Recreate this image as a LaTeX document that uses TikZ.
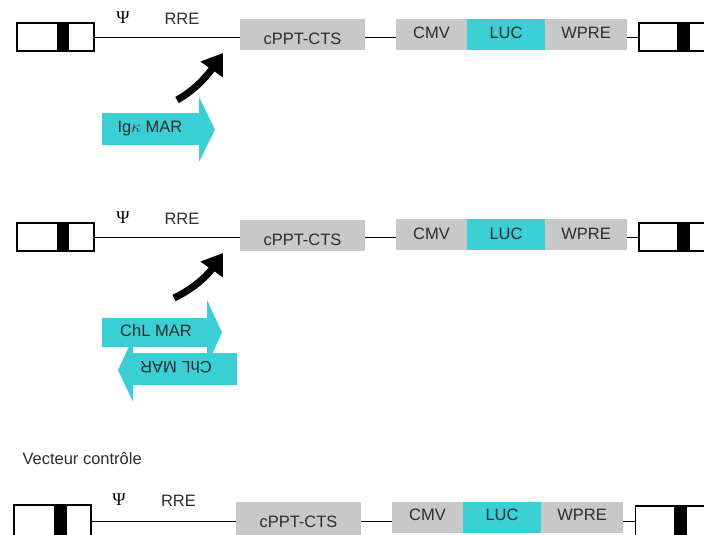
\documentclass[tikz,border=0pt]{standalone}
\usepackage{fontspec}
\setmainfont{Liberation Sans}
\newfontfamily\psifont{Liberation Serif}
\usepackage{xcolor}
\usetikzlibrary{arrows.meta}
\definecolor{boxgray}{RGB}{200,200,200}
\definecolor{marcyan}{RGB}{58,207,212}
\definecolor{txtgray}{RGB}{45,45,45}

\begin{document}
\begin{tikzpicture}[x=1pt,y=-1pt,font=\fontsize{16.5}{19}\selectfont,text=txtgray,
  ltr/.style={draw=black,line width=1.1pt,minimum width=77pt,minimum height=28pt,inner sep=0pt},
  elem/.style={fill=boxgray,minimum height=31pt,inner sep=0pt,text height=12pt,text depth=3pt},
  cppt/.style={elem,minimum width=125pt,text height=20pt,text depth=0pt},
  psi/.style={font=\psifont\fontsize{18}{20}\selectfont,text=black},
  curvearrow/.style={line width=7pt,-{Triangle[length=20pt,width=26pt]}},
  mar/.style={fill=marcyan}]
  \useasboundingbox (0,0) rectangle (704,535);
  \clip (0,0) rectangle (704,535);
  % vecteur Igk MAR
  \fill (57,23) rectangle (69,51);
  \node[ltr] (ltrl1) at (55.5,37) {};
  \fill (677,23) rectangle (690,51);
  \node[ltr] (ltrr1) at (677.5,37) {};
  \node[cppt] (cppt1) at (302.5,35) {cPPT-CTS};
  \node[elem,minimum width=71pt] (cmv1) at (431.5,34.5) {CMV};
  \node[elem,fill=marcyan,minimum width=78pt] (luc1) at (506,34.5) {LUC};
  \node[elem,minimum width=82pt] (wpre1) at (586,34.5) {WPRE};
  \draw (ltrl1.east) -- (ltrl1.east -| cppt1.west);
  \draw (cppt1.east |- ltrl1.east) -- (cmv1.west |- ltrl1.east);
  \draw (wpre1.east |- ltrr1.west) -- (ltrr1.west);
  \node[psi] (psi1) at (123,18) {Ψ};
  \node (rre1) at (182,19) {RRE};
  \coordinate (tail1) at (177,100);
  \coordinate (ins1) at (223,53);
  \draw[curvearrow] (tail1) .. controls (195,90) and (207,76) .. (ins1);
  \fill[mar] (102,113) -- (199,113) -- (199,97) -- (215,129.5) -- (199,162) -- (199,145) -- (102,145) -- cycle;
  \node (igk) at (150,129) {Ig$\kappa$ MAR};
  % vecteur ChL MAR
  \fill (57,223) rectangle (69,251);
  \node[ltr] (ltrl2) at (55.5,237) {};
  \fill (677,223) rectangle (690,251);
  \node[ltr] (ltrr2) at (677.5,237) {};
  \node[cppt] (cppt2) at (302.5,235) {cPPT-CTS};
  \node[elem,minimum width=71pt] (cmv2) at (431.5,234.5) {CMV};
  \node[elem,fill=marcyan,minimum width=78pt] (luc2) at (506,234.5) {LUC};
  \node[elem,minimum width=82pt] (wpre2) at (586,234.5) {WPRE};
  \draw (ltrl2.east) -- (ltrl2.east -| cppt2.west);
  \draw (cppt2.east |- ltrl2.east) -- (cmv2.west |- ltrl2.east);
  \draw (wpre2.east |- ltrr2.west) -- (ltrr2.west);
  \node[psi] (psi2) at (123,218) {Ψ};
  \node (rre2) at (182,219) {RRE};
  \coordinate (tail2) at (174,298);
  \coordinate (ins2) at (223,253);
  \draw[curvearrow] (tail2) .. controls (193,289) and (207,276) .. (ins2);
  \fill[mar] (102,318) -- (207,318) -- (207,300) -- (222,332.5) -- (207,365) -- (207,347) -- (102,347) -- cycle;
  \node (chlf) at (156,331) {ChL MAR};
  \fill[mar] (237,353) -- (133,353) -- (133,338) -- (118,370) -- (133,402) -- (133,385) -- (237,385) -- cycle;
  \node[rotate=180] (chlr) at (176,367) {ChL MAR};
  % vecteur controle
  \node[anchor=west] (ctrl) at (19,459) {Vecteur contrôle};
  \fill (53.5,505) rectangle (66.5,540);
  \node[ltr,minimum height=32pt] (ltrl3) at (52.5,521) {};
  \fill (673.5,506) rectangle (686.5,540);
  \node[ltr,minimum height=30pt] (ltrr3) at (674,521) {};
  \node[cppt,minimum height=36pt,text height=14pt] (cppt3) at (298.5,520) {cPPT-CTS};
  \node[elem,minimum width=71pt,text height=8pt] (cmv3) at (427.5,517.5) {CMV};
  \node[elem,fill=marcyan,minimum width=78pt,text height=8pt] (luc3) at (502,517.5) {LUC};
  \node[elem,minimum width=82pt,text height=8pt] (wpre3) at (582,517.5) {WPRE};
  \draw (ltrl3.east) -- (ltrl3.east -| cppt3.west);
  \draw (cppt3.east |- ltrl3.east) -- (cmv3.west |- ltrl3.east);
  \draw (wpre3.east |- ltrr3.west) -- (ltrr3.west);
  \node[psi] (psi3) at (119,500) {Ψ};
  \node (rre3) at (178.5,501) {RRE};
\end{tikzpicture}
\end{document}
